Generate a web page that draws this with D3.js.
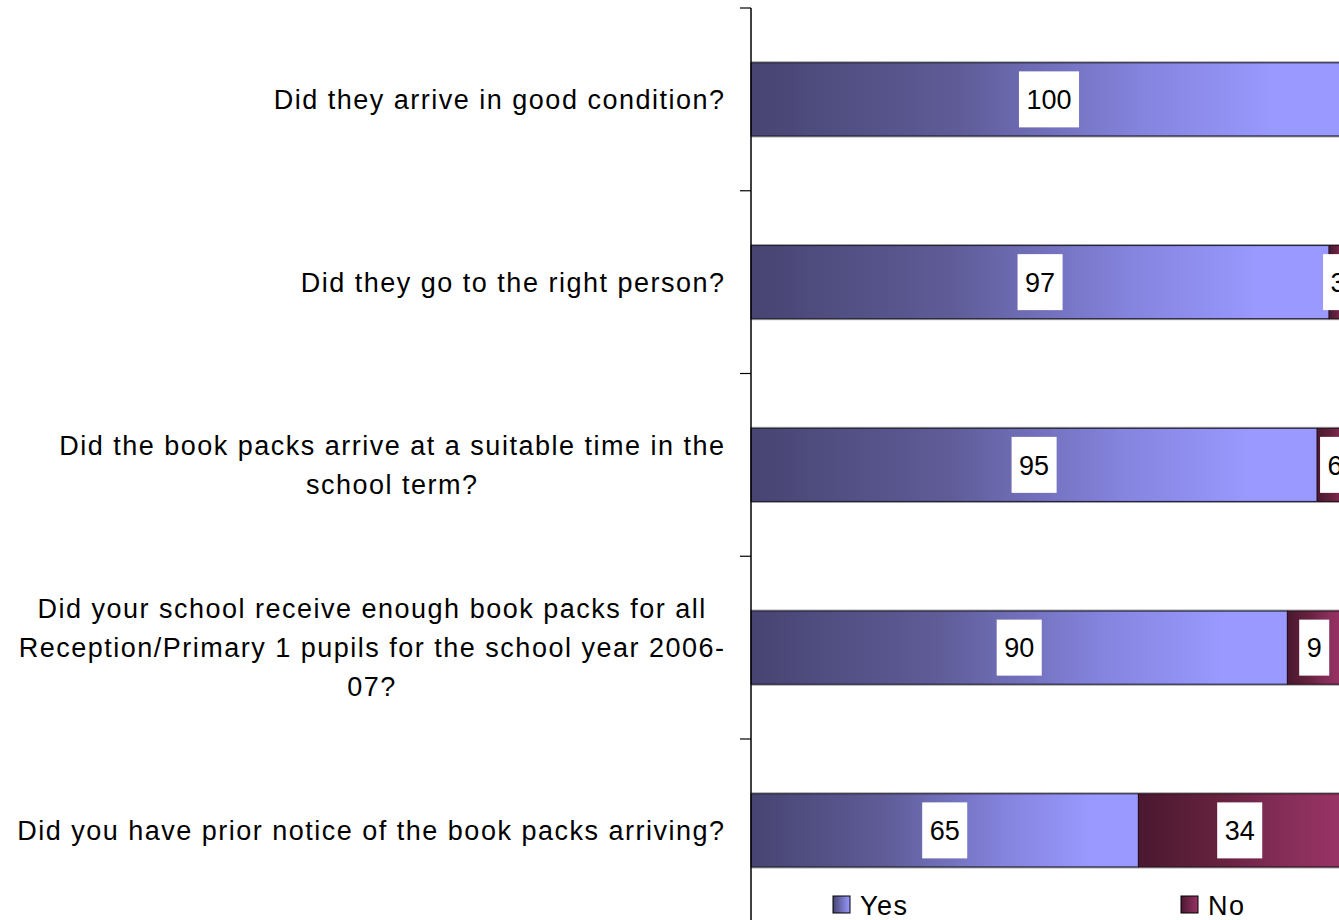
<!DOCTYPE html>
<html><head><meta charset="utf-8">
<script src="https://cdn.jsdelivr.net/npm/d3@7"></script>
<style>html,body{margin:0;padding:0;background:#fff;overflow:hidden}svg{display:block}</style>
</head><body>
<script>
const categories = [
  "Did they arrive in good condition?",
  "Did they go to the right person?",
  "Did the book packs arrive at a suitable time in the\nschool term?",
  "Did your school receive enough book packs for all\nReception/Primary 1 pupils for the school year 2006-\n07?",
  "Did you have prior notice of the book packs arriving?"
];
const seriesNames = ["Yes", "No"];
const yesValues = [100, 97, 95, 90, 65];
const noValues = [0, 3, 6, 9, 34];

const W = 1339, H = 920;
const svg = d3.select("body").append("svg").attr("width", W).attr("height", H);
const font = "'Liberation Sans', Arial, sans-serif";
const FS = "27px", LS = "1.5px";

const defs = svg.append("defs");
function grad(id, stops) {
  const g = defs.append("linearGradient").attr("id", id).attr("x1", "0%").attr("x2", "100%").attr("y1", "0").attr("y2", "0");
  stops.forEach(s => g.append("stop").attr("offset", s[0]).attr("stop-color", s[1]));
}
grad("gYes", [["0%", "#474472"], ["35%", "#5f5c98"], ["65%", "#8483dd"], ["88%", "#9999ff"], ["100%", "#9999ff"]]);
grad("gNo", [["0%", "#4a1830"], ["40%", "#66223f"], ["75%", "#882e5a"], ["100%", "#993366"]]);
grad("lYes", [["0%", "#474472"], ["100%", "#9999ff"]]);
grad("lNo", [["0%", "#4a1830"], ["100%", "#993366"]]);

const x = d3.scaleLinear().domain([0, 100]).range([751, 1347]);
const y = d3.scaleBand().domain(categories).range([8, 921.75]).paddingInner(0.6).paddingOuter(0.3);

const rows = categories.map((c, i) => ({ c, yes: yesValues[i], no: noValues[i] }));

const segs = [];
rows.forEach(r => {
  segs.push({ c: r.c, x0: 0, x1: r.yes, v: r.yes, s: "Yes" });
  if (r.no > 0) segs.push({ c: r.c, x0: r.yes, x1: r.yes + r.no, v: r.no, s: "No" });
});
const bw = y.bandwidth();
svg.selectAll("rect.shadow").data(segs).enter().append("rect")
  .attr("x", d => x(d.x0)).attr("y", d => y(d.c) - 1.5)
  .attr("width", d => x(d.x1) - x(d.x0)).attr("height", bw + 3)
  .attr("fill", "#9a9a9a");
svg.selectAll("rect.bar").data(segs).enter().append("rect")
  .attr("x", d => x(d.x0)).attr("y", d => y(d.c))
  .attr("width", d => x(d.x1) - x(d.x0)).attr("height", bw)
  .attr("fill", d => d.s === "Yes" ? "url(#gYes)" : "url(#gNo)")
  .attr("stroke", d => d.s === "Yes" ? "#1e1d33" : "#2a0d1b").attr("stroke-width", 1);

const lab = svg.selectAll("g.lab").data(segs).enter().append("g")
  .attr("transform", d => `translate(${x((d.x0 + d.x1) / 2)},${y(d.c) + bw / 2})`);
lab.each(function (d) {
  const g = d3.select(this);
  const t = g.append("text").text(d.v).attr("text-anchor", "middle").attr("dy", "0.36em")
    .style("font-family", font).style("font-size", FS).attr("fill", "#000");
  const w = t.node().getComputedTextLength();
  g.insert("rect", "text").attr("x", -w / 2 - 7.5).attr("y", -28).attr("width", w + 15).attr("height", 56).attr("fill", "#fff");
});

const axisG = svg.append("g").attr("transform", "translate(751,0)");
axisG.append("line").attr("x1", 0).attr("x2", 0).attr("y1", 8).attr("y2", H).attr("stroke", "#000").attr("stroke-width", 1.5);
const tickYs = categories.map(c => y(c) - y.step() * 0.3).concat([y(categories[categories.length - 1]) + bw + y.step() * 0.3]);
axisG.selectAll("line.tick").data(tickYs).enter().append("line")
  .attr("x1", -11).attr("x2", 0).attr("y1", d => d).attr("y2", d => d).attr("stroke", "#000").attr("stroke-width", 1.2);

const lineH = 39;
categories.forEach(c => {
  const lines = c.split("\n");
  const widths = lines.map(l => {
    const s = svg.append("text").style("font-family", font).style("font-size", FS).style("letter-spacing", LS).text(l);
    const w = s.node().getComputedTextLength(); s.remove(); return w;
  });
  const maxW = d3.max(widths);
  const center = 725.5 - maxW / 2;
  const t = svg.append("text").style("font-family", font).style("font-size", FS).style("letter-spacing", LS)
    .attr("fill", "#000").attr("text-anchor", "middle");
  const cy = y(c) + bw / 2;
  lines.forEach((l, i) => {
    t.append("tspan").attr("x", center)
      .attr("y", cy + (i - (lines.length - 1) / 2) * lineH).attr("dy", "0.36em").text(l);
  });
});

const legend = [{ s: seriesNames[0], x: 833, f: "url(#lYes)" }, { s: seriesNames[1], x: 1181, f: "url(#lNo)" }];
legend.forEach(l => {
  svg.append("rect").attr("x", l.x).attr("y", 896).attr("width", 17).attr("height", 17).attr("fill", l.f).attr("stroke", "#000").attr("stroke-width", 1);
  svg.append("text").attr("x", l.x + 27).attr("y", 915).text(l.s).style("font-family", font).style("font-size", FS).style("letter-spacing", LS).attr("fill", "#000");
});
</script>
</body></html>
